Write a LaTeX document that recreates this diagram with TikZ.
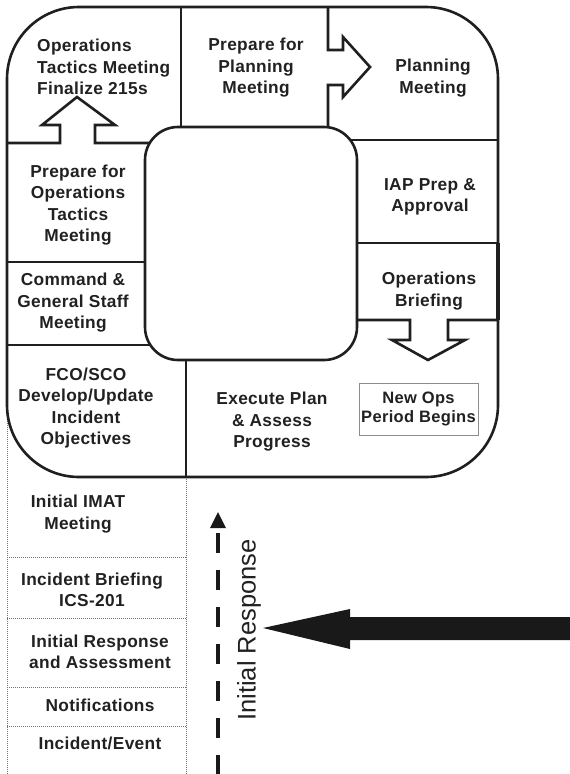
\documentclass[tikz,border=0pt]{standalone}
\usepackage{fontspec}
\setmainfont{Liberation Sans}
\newfontfamily\lblfont[LetterSpace=2.0]{Liberation Sans}
\begin{document}
\begin{tikzpicture}[x=1pt,y=-1pt,
  frame/.style={line width=2.6pt, draw=black!88, line join=miter},
  thin/.style={line width=0.8pt, draw=black!55, dash pattern=on 1.2pt off 0.8pt},
  lbl/.style={font=\lblfont\fontsize{17.3}{21.5}\selectfont\bfseries, text=black!87, align=center, inner sep=0pt},
]
\useasboundingbox (0,0) rectangle (570,774);
% bottom stack thin lines
\draw[thin] (7,405) -- (7,774);
\draw[thin] (186,477) -- (186,774);
\foreach \yy in {557,618,687,726} \draw[thin] (7,\yy) -- (186,\yy);
% outer rounded frame
\draw[frame, fill=white, rounded corners=72pt] (7,7) rectangle (498,477);
% dividers
\draw[frame] (181,7) -- (181,160);
\draw[frame] (328,7) -- (328,50) -- (343,50) -- (343,37) -- (370,67) -- (343,97) -- (343,85) -- (328,85) -- (328,160);
\draw[frame] (300,140) -- (498,140);
\draw[frame] (300,243) -- (498,243);
\draw[frame] (300,320) -- (410,320) -- (410,340) -- (392,340) -- (428,360) -- (465,340) -- (448,340) -- (448,320) -- (498,320);
\draw[line width=3.4pt, draw=black!88] (498,243) -- (498,320);
\draw[frame] (7,143) -- (60,143) -- (60,125) -- (42,125) -- (77,97) -- (115,125) -- (95,125) -- (95,143) -- (200,143);
\draw[frame] (7,262) -- (200,262);
\draw[frame] (7,345) -- (200,345);
\draw[frame] (186,300) -- (186,477);
% inner rounded square
\draw[frame, fill=white, rounded corners=33pt] (145,127) rectangle (357,360);
% new ops box
\node[lbl, draw=black!45, line width=0.9pt, minimum width=119pt, minimum height=52pt, font=\lblfont\fontsize{16.5}{19}\selectfont\bfseries] (newops) at (418.5,409) {New Ops\\Period Begins};
% labels
\node[lbl, align=left, anchor=west] (optac) at (37,67) {Operations\\Tactics Meeting\\Finalize 215s};
\node[lbl] (prepplan) at (256,68) {Prepare for\\Planning\\Meeting};
\node[lbl] (plan) at (433,78) {Planning\\Meeting};
\node[lbl] (prepops) at (78,205) {Prepare for\\Operations\\Tactics\\Meeting};
\node[lbl] (cgs) at (73,303) {Command \&\\General Staff\\Meeting};
\node[lbl] (iap) at (430,197) {IAP Prep \&\\Approval};
\node[lbl] (opsbrief) at (429,291) {Operations\\Briefing};
\node[lbl] (fco) at (86,408) {FCO/SCO\\Develop/Update\\Incident\\Objectives};
\node[lbl] (exec) at (272,422) {Execute Plan\\\& Assess\\Progress};
\node[lbl] (imat) at (78,514) {Initial IMAT\\Meeting};
\node[lbl] (brief) at (92,590) {Incident Briefing\\ICS-201};
\node[lbl] (initresp) at (100,652) {Initial Response\\and Assessment};
\node[lbl] (notif) at (100,705) {Notifications};
\node[lbl] (event) at (100,743) {Incident/Event};
% initial response dashed arrow
\coordinate (dtop) at (218,533);
\coordinate (dbot) at (218,774);
\draw[line width=4.6pt, draw=black!90, dash pattern=on 20pt off 17pt] (dtop) -- (dbot);
\fill[black!90] (210,528) -- (218,512) -- (226,528) -- cycle;
\node[inner sep=0pt, rotate=90, font=\fontsize{25.5}{28}\selectfont, text=black!87] (irlabel) at (249,630) {Initial Response};
% big arrow
\fill[black!90] (570,617) -- (350,617) -- (350,609) -- (263,628) -- (350,649) -- (350,640) -- (570,640) -- cycle;
\end{tikzpicture}
\end{document}
